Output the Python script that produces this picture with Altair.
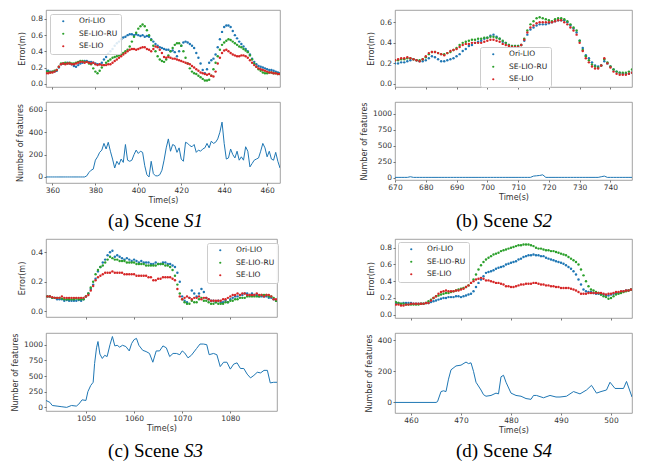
import altair as alt
import pandas as pd

SERIES = ["Ori-LIO", "SE-LIO-RU", "SE-LIO"]
COLORS = ["#1f77b4", "#2ca02c", "#d62728"]
LINE_COLOR = "#1f77b4"

# ---------------- Scene S1 (error samples every 1 s from 357 s) ----------------
s1_times = list(range(357, 467))
s1_ori = [.16, .16, .15, .15, .15, .16, .20, .24, .25, .25,
          .26, .25, .24, .22, .21, .23, .25, .26, .28, .28,
          .27, .27, .26, .25, .24, .24, .26, .30, .33, .37,
          .40, .43, .47, .50, .52, .55, .57, .58, .60, .61,
          .61, .60, .61, .60, .59, .60, .58, .59, .58, .55,
          .52, .49, .47, .45, .44, .43, .42, .42, .40, .41,
          .39, .34, .40, .47, .51, .52, .51, .49, .47, .44,
          .38, .32, .25, .17, .13, .18, .26, .29, .31, .36,
          .45, .55, .64, .70, .72, .72, .70, .65, .60, .56,
          .52, .49, .46, .43, .40, .36, .31, .27, .24, .22,
          .21, .20, .19, .18, .17, .17, .16, .15, .14, .13]
s1_ru = [.15, .15, .14, .15, .16, .17, .21, .25, .25, .26,
         .25, .26, .25, .25, .26, .27, .28, .28, .27, .27,
         .25, .24, .19, .15, .13, .16, .20, .23, .26, .28,
         .30, .32, .33, .34, .35, .36, .38, .40, .42, .46,
         .52, .58, .63, .68, .71, .73, .71, .66, .60, .54,
         .47, .40, .34, .30, .28, .27, .30, .35, .40, .44,
         .48, .50, .50, .47, .40, .32, .25, .19, .15, .13,
         .12, .10, .08, .06, .04, .04, .05, .10, .18, .26,
         .34, .42, .48, .51, .53, .55, .54, .52, .50, .48,
         .46, .45, .43, .41, .39, .35, .30, .25, .21, .18,
         .16, .14, .13, .13, .14, .14, .13, .13, .12, .12]
s1_se = [.13, .13, .14, .14, .15, .17, .21, .24, .25, .24,
         .25, .25, .24, .24, .25, .26, .27, .27, .26, .27,
         .26, .25, .26, .24, .23, .24, .23, .23, .23, .24,
         .24, .26, .28, .30, .32, .34, .36, .38, .40, .42,
         .43, .43, .42, .43, .44, .45, .45, .43, .42, .40,
         .43, .46, .45, .42, .38, .33, .32, .33, .32, .31,
         .31, .30, .29, .28, .27, .26, .25, .24, .22, .20,
         .18, .16, .14, .13, .12, .11, .12, .10, .09, .15,
         .25, .32, .38, .41, .42, .40, .38, .36, .35, .34,
         .34, .35, .35, .34, .32, .29, .26, .23, .21, .19,
         .18, .17, .16, .15, .14, .14, .13, .13, .12, .12]
s1_feat = [0, 0, 0, 0, 0, 0, 0, 0, 0, 0,
           0, 0, 0, 0, 0, 0, 0, 0, 0, 10,
           40, 60, 70, 150, 180, 220, 240, 300, 250, 310,
           230, 160, 80, 140, 110, 160, 130, 290, 150, 140,
           150, 200, 240, 210, 230, 220, 100, 20, 0, 140,
           30, 10, 10, 20, 60, 150, 260, 340, 230, 290,
           280, 220, 260, 160, 140, 310, 300, 280, 270, 290,
           220, 240, 230, 250, 260, 300, 260, 320, 300, 310,
           340, 400, 490, 300, 160, 170, 250, 200, 170, 230,
           150, 180, 150, 270, 230, 90, 120, 150, 160, 170,
           230, 300, 260, 180, 230, 160, 150, 220, 140, 80]

# ---------------- Scene S2 (every 1 s from 670 s) ----------------
s2_times = list(range(670, 748))
s2_ori = [.20, .20, .21, .21, .22, .23, .24, .23, .22, .22,
          .23, .25, .27, .26, .24, .22, .22, .23, .24, .25,
          .27, .29, .32, .34, .37, .38, .40, .41, .42, .44,
          .45, .47, .48, .46, .44, .41, .40, .38, .37, .37,
          .37, .38, .42, .48, .53, .55, .57, .58, .58, .58,
          .59, .60, .61, .62, .62, .62, .60, .57, .54, .50,
          .42, .35, .28, .25, .21, .18, .17, .18, .22, .20,
          .17, .14, .12, .11, .10, .10, .10, .11]
s2_ru = [.23, .23, .24, .24, .25, .25, .24, .23, .23, .24,
         .26, .29, .31, .31, .30, .29, .29, .30, .31, .33,
         .35, .38, .40, .41, .42, .43, .43, .44, .44, .45,
         .45, .46, .46, .45, .44, .42, .40, .38, .37, .37,
         .37, .38, .44, .52, .58, .61, .64, .65, .64, .63,
         .62, .61, .63, .64, .64, .63, .61, .58, .55, .52,
         .42, .33, .27, .23, .19, .17, .16, .18, .24, .21,
         .17, .14, .12, .11, .11, .11, .12, .14]
s2_se = [.23, .24, .25, .25, .26, .25, .24, .23, .22, .24,
         .27, .30, .31, .31, .30, .29, .28, .30, .32, .33,
         .34, .36, .38, .39, .39, .40, .40, .40, .40, .41,
         .42, .43, .43, .42, .41, .39, .38, .37, .36, .36,
         .36, .38, .43, .50, .55, .57, .59, .60, .60, .60,
         .60, .60, .61, .62, .62, .60, .58, .55, .52, .48,
         .40, .32, .25, .21, .17, .15, .15, .18, .25, .20,
         .16, .12, .10, .09, .09, .09, .10, .11]
s2_feat = [5, 5, 5, 5, 5, 15, 5, 5, 5, 5,
           5, 5, 5, 5, 5, 5, 5, 5, 5, 5,
           5, 5, 5, 5, 5, 5, 5, 5, 5, 5,
           5, 5, 5, 5, 5, 5, 5, 5, 5, 5,
           5, 5, 5, 5, 5, 25, 30, 35, 45, 5,
           5, 5, 5, 5, 5, 5, 5, 5, 5, 5,
           5, 5, 5, 5, 5, 5, 5, 15, 25, 5,
           5, 5, 5, 5, 5, 5, 5, 5]

# ---------------- Scene S3 (every 0.5 s from 1042 s) ----------------
s3_times = [1042 + 0.5 * i for i in range(96)]
s3_ori = [.10, .10, .09, .09, .08, .08, .08, .07, .075, .07,
          .07, .07, .07, .075, .07, .08, .10, .12, .15, .18,
          .22, .27, .30, .33, .35, .38, .40, .41, .37, .38,
          .37, .36, .35, .36, .35, .34, .35, .34, .33, .34,
          .33, .33, .33, .32, .32, .33, .32, .32, .33, .33,
          .32, .32, .31, .30, .26, .20, .10, .07, .06, .09,
          .14, .12, .10, .12, .15, .13, .09, .08, .07, .07,
          .06, .07, .06, .06, .07, .06, .08, .09, .10, .10,
          .11, .11, .12, .12, .11, .12, .11, .11, .10, .10,
          .10, .10, .09, .09, .08, .07]
s3_ru = [.10, .10, .09, .09, .09, .09, .085, .08, .08, .08,
         .08, .08, .085, .08, .08, .08, .10, .12, .16, .20,
         .25, .28, .30, .31, .33, .35, .37, .36, .35, .35,
         .34, .34, .34, .33, .33, .33, .33, .32, .32, .32,
         .32, .31, .31, .31, .31, .31, .32, .32, .32, .31,
         .31, .30, .28, .24, .18, .12, .08, .06, .05, .05,
         .07, .06, .06, .08, .09, .07, .07, .06, .05, .05,
         .06, .05, .05, .05, .06, .06, .07, .07, .08, .08,
         .09, .09, .09, .10, .10, .10, .10, .10, .10, .11,
         .11, .11, .10, .10, .09, .07]
s3_se = [.10, .10, .095, .09, .09, .09, .10, .09, .09, .09,
         .09, .09, .09, .09, .09, .09, .10, .11, .14, .17,
         .21, .23, .24, .25, .26, .26, .26, .27, .26, .26,
         .26, .26, .25, .25, .25, .25, .25, .24, .24, .24,
         .24, .24, .23, .23, .21, .21, .22, .22, .23, .23,
         .23, .23, .22, .21, .15, .10, .08, .09, .10, .09,
         .08, .09, .09, .10, .08, .09, .09, .08, .07, .07,
         .07, .07, .07, .08, .08, .09, .10, .11, .11, .12,
         .11, .12, .12, .11, .11, .11, .11, .12, .11, .11,
         .10, .11, .11, .10, .08, .08]
s3_feat_t = [1041.7, 1042.5, 1043, 1044, 1045, 1046, 1047, 1048, 1048.5, 1049.2,
             1050, 1050.4, 1051, 1051.5, 1051.8, 1052.2, 1052.5, 1052.9, 1053.4, 1053.9,
             1054.4, 1055, 1055.5, 1056, 1056.5, 1057, 1057.6, 1058.3, 1059, 1059.5,
             1060, 1060.5, 1061, 1061.8, 1062.5, 1063.2, 1063.9, 1064.6, 1065.3, 1066,
             1066.7, 1067.4, 1068.1, 1068.8, 1069.5, 1070, 1070.5, 1071.2, 1071.9, 1073,
             1073.7, 1074.4, 1075.1, 1075.6, 1076.5, 1077.2, 1077.9, 1078.6, 1079.3, 1080,
             1080.7, 1081.4, 1082.1, 1082.8, 1083.5, 1084.2, 1084.9, 1085.6, 1086.3, 1087,
             1087.7, 1088.3, 1089, 1089.7]
s3_feat = [110, 80, 30, 20, 10, 0, 30, 20, 50, 120,
           110, 250, 350, 400, 700, 950, 1050, 850, 780, 830,
           810, 1000, 1130, 980, 990, 960, 990, 970, 900, 1020,
           1080, 1100, 990, 910, 890, 860, 720, 900, 900, 980,
           950, 810, 860, 860, 840, 900, 870, 790, 830, 940,
           1010, 1010, 1000, 840, 860, 840, 650, 720, 720, 610,
           690, 710, 620, 620, 530, 470, 510, 560, 550, 590,
           590, 390, 400, 400]

# ---------------- Scene S4 (every 0.5 s from 457 s) ----------------
s4_times = [457 + 0.5 * i for i in range(95)]
s4_ori = [.14, .14, .13, .14, .14, .14, .14, .13, .13, .13,
          .13, .13, .14, .14, .15, .16, .17, .18, .19, .20,
          .20, .21, .21, .21, .22, .22, .21, .22, .23, .24,
          .25, .28, .33, .38, .42, .46, .50, .51, .52, .53,
          .55, .56, .57, .58, .60, .61, .62, .63, .64, .66,
          .67, .69, .70, .71, .71, .72, .71, .71, .70, .70,
          .68, .67, .66, .65, .64, .63, .62, .61, .59, .57,
          .55, .52, .48, .42, .36, .30, .28, .27, .27, .26,
          .25, .25, .24, .24, .23, .23, .24, .25, .26, .26,
          .27, .28, .29, .29, .30]
s4_ru = [.15, .14, .13, .13, .12, .12, .12, .12, .12, .12,
         .13, .13, .14, .16, .18, .20, .22, .23, .24, .25,
         .26, .26, .27, .28, .29, .30, .31, .32, .33, .35,
         .38, .42, .48, .54, .59, .63, .66, .68, .70, .72,
         .73, .74, .76, .77, .78, .79, .80, .81, .82, .83,
         .83, .84, .84, .84, .83, .82, .80, .79, .79, .78,
         .77, .77, .76, .76, .75, .74, .73, .72, .71, .69,
         .67, .65, .63, .60, .54, .47, .40, .34, .30, .29,
         .27, .26, .24, .22, .21, .19, .20, .22, .24, .25,
         .26, .27, .28, .29, .30]
s4_se = [.12, .12, .11, .11, .12, .12, .13, .13, .13, .13,
         .13, .13, .14, .14, .17, .20, .22, .25, .27, .28,
         .29, .28, .28, .28, .29, .29, .30, .31, .33, .35,
         .38, .40, .42, .43, .44, .43, .41, .41, .40, .39,
         .38, .38, .37, .36, .34, .34, .33, .33, .34, .35,
         .36, .36, .37, .37, .37, .38, .38, .37, .36, .36,
         .35, .35, .34, .34, .33, .33, .32, .32, .32, .32,
         .31, .30, .29, .27, .25, .25, .25, .26, .26, .26,
         .26, .26, .26, .25, .24, .25, .25, .26, .27, .27,
         .28, .28, .29, .29, .30]
s4_feat_t = [456.8, 465, 465.3, 466, 466.5, 467, 467.5, 468, 469, 470,
             471, 471.5, 472, 472.5, 473, 474, 474.5, 475, 476, 477,
             477.5, 478, 478.5, 479, 480, 481, 482, 483, 484, 484.5,
             485.1, 486.5, 487.8, 489, 489.8, 491.1, 492.5, 493.8, 495.1, 496.1,
             497.1, 498, 499.1, 499.8, 500.8, 502.5, 503.1, 504.2]
s4_feat = [0, 0, 5, 70, 75, 70, 150, 210, 235, 240,
           260, 250, 255, 200, 130, 80, 50, 40, 45, 60,
           55, 165, 175, 130, 60, 45, 40, 25, 20, 45,
           45, 30, 45, 35, 35, 40, 70, 55, 80, 110,
           60, 70, 80, 130, 90, 90, 135, 35]

CAP_PREFIX = ["(a) Scene", "(b) Scene", "(c) Scene", "(d) Scene"]
CAP_ITALIC = ["S1", "S2", "S3", "S4"]

FONT = "DejaVu Sans"
SERIF = "Liberation Serif, Times New Roman, DejaVu Serif, serif"


def err_df(times, ori, ru, se):
    rows = []
    for name, vals in zip(SERIES, [ori, ru, se]):
        assert len(vals) == len(times), (name, len(vals), len(times))
        rows += [{"t": t, "v": v, "s": name} for t, v in zip(times, vals)]
    return pd.DataFrame(rows)


def err_chart(times, ori, ru, se, xdom, xticks, ydom, yticks, w, h, lx, ly):
    df = err_df(times, ori, ru, se)
    return alt.Chart(df).mark_circle(size=6, opacity=1, clip=True).encode(
        x=alt.X("t:Q", scale=alt.Scale(domain=xdom, nice=False, zero=False),
                axis=alt.Axis(values=xticks, labels=False, title=None)),
        y=alt.Y("v:Q", scale=alt.Scale(domain=ydom, nice=False, zero=False),
                axis=alt.Axis(values=yticks, format=".1f", title="Error(m)", titlePadding=4)),
        color=alt.Color("s:N", scale=alt.Scale(domain=SERIES, range=COLORS),
                        legend=alt.Legend(title=None, orient="none", legendX=lx, legendY=ly,
                                          fillColor="rgba(255,255,255,0.85)", strokeColor="#cccccc",
                                          cornerRadius=2, padding=3.5, symbolType="circle",
                                          symbolSize=5, symbolStrokeWidth=0, symbolOffset=6,
                                          labelOffset=12, labelFont=FONT, labelFontSize=7.5,
                                          labelColor="#222222", rowPadding=3.5)),
    ).properties(width=w, height=h)


def feat_chart(times, vals, xdom, xticks, ydom, yticks, w, h):
    assert len(times) == len(vals), (len(times), len(vals))
    df = pd.DataFrame({"t": times, "n": vals})
    return alt.Chart(df).mark_line(color=LINE_COLOR, strokeWidth=1, clip=True).encode(
        x=alt.X("t:Q", scale=alt.Scale(domain=xdom, nice=False, zero=False),
                axis=alt.Axis(values=xticks, format="d", title="Time(s)", titlePadding=2)),
        y=alt.Y("n:Q", scale=alt.Scale(domain=ydom, nice=False, zero=False),
                axis=alt.Axis(values=yticks, format="d", title="Number of features", titlePadding=4)),
    ).properties(width=w, height=h)


def caption(i, w, h, y):
    df = pd.DataFrame({"a": [CAP_PREFIX[i]], "b": [CAP_ITALIC[i]]})
    base = alt.Chart(df)
    t1 = base.mark_text(align="right", baseline="alphabetic", font=SERIF,
                        fontSize=19, color="black").encode(
        x=alt.value(133.3), y=alt.value(y), text="a:N")
    t2 = base.mark_text(align="left", baseline="alphabetic", font=SERIF,
                        fontSize=19, fontStyle="italic", color="black").encode(
        x=alt.value(138.0), y=alt.value(y), text="b:N")
    return alt.layer(t1, t2).properties(width=w, height=h,
                                        view=alt.ViewBackground(strokeOpacity=0))


s1_xd, s1_xt = [357, 466], [360, 380, 400, 420, 440, 460]
s2_xd, s2_xt = [670, 747], [670, 680, 690, 700, 710, 720, 730, 740]
s3_xd, s3_xt = [1041.7, 1089.7], [1050, 1060, 1070, 1080]
s4_xd, s4_xt = [456.8, 504.2], [460, 470, 480, 490, 500]

s1_top = err_chart(s1_times, s1_ori, s1_ru, s1_se, s1_xd, s1_xt, [-0.04, 0.91],
                   [0.0, 0.2, 0.4, 0.6, 0.8], 234, 77, 4, 4)
s2_top = err_chart(s2_times, s2_ori, s2_ru, s2_se, s2_xd, s2_xt, [-0.03, 0.72],
                   [0.0, 0.2, 0.4, 0.6], 237, 77, 85, 37)
s3_top = err_chart(s3_times, s3_ori, s3_ru, s3_se, s3_xd, s3_xt, [-0.04, 0.49],
                   [0.0, 0.2, 0.4], 231, 78, 161, 4)
s4_top = err_chart(s4_times, s4_ori, s4_ru, s4_se, s4_xd, s4_xt, [-0.04, 0.905],
                   [0.0, 0.2, 0.4, 0.6, 0.8], 237, 79, 3, 3)

s1_bot = feat_chart(s1_times, s1_feat, s1_xd, s1_xt, [-54, 670], [0, 200, 400, 600], 234, 81)
s2_bot = feat_chart(s2_times, s2_feat, s2_xd, s2_xt, [-36, 1185], [0, 250, 500, 750, 1000], 237, 78)
s3_bot = feat_chart(s3_feat_t, s3_feat, s3_xd, s3_xt, [-58, 1186], [0, 250, 500, 750, 1000], 231, 78)
s4_bot = feat_chart(s4_feat_t, s4_feat, s4_xd, s4_xt, [-68, 447], [0, 200, 400], 237, 80)

cells = [s1_top, s2_top, s1_bot, s2_bot,
         caption(0, 234, 26, 29), caption(1, 237, 26, 29),
         s3_top, s4_top, s3_bot, s4_bot,
         caption(2, 234, 26, 29), caption(3, 237, 26, 29)]

chart = alt.concat(*cells, columns=2, spacing={"row": 15, "column": 115},
                   bounds="flush", align="each").resolve_scale(
    x="independent", y="independent", color="independent"
).properties(
    padding={"left": 3, "top": 1, "right": 4, "bottom": 2}
).configure_view(
    stroke="#8a8a8a", strokeWidth=0.8
).configure_axis(
    grid=False, domain=False, tickSize=2, tickColor="#555555", tickWidth=0.8,
    labelFont=FONT, labelFontSize=7.5, labelColor="#333333", labelPadding=1.5,
    labelFlush=False, titleFont=FONT, titleFontSize=8, titleFontWeight="normal",
    titleColor="#333333"
)

chart.save("out.html", embed_options={"renderer": "svg", "actions": False})
